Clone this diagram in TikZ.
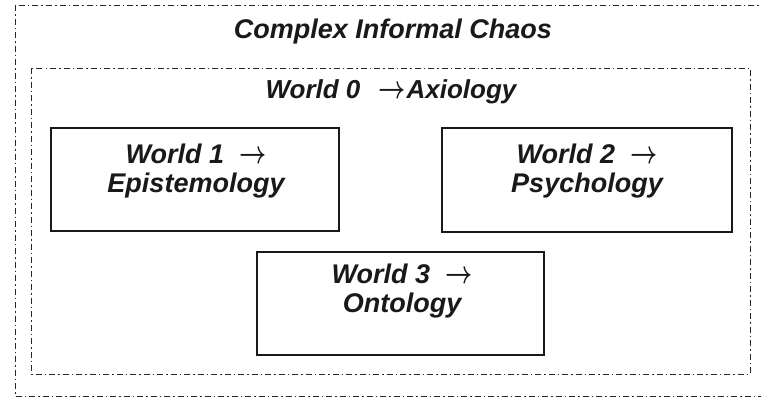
\documentclass[tikz,border=0pt]{standalone}
\usepackage{fontspec}
\setmainfont{Liberation Sans}
\newcommand{\worldarrow}{\scalebox{0.95}[1.3]{\boldmath$\rightarrow$}}
\begin{document}
\begin{tikzpicture}[x=1pt, y=-1pt,
  frame/.style={draw=black!85, line width=0.9pt,
    dash pattern=on 6pt off 3pt on 1.5pt off 3pt},
  worldbox/.style={draw=black!90, line width=1.3pt, rectangle},
  worldtext/.style={font=\fontsize{27}{29}\selectfont\bfseries\itshape,
    align=center, inner sep=0pt, text=black!90},
  heading/.style={font=\fontsize{27}{29}\selectfont\bfseries\itshape,
    inner sep=0pt, anchor=base, text=black!90}]
  \useasboundingbox (0,0) rectangle (761,399);
  \fill[white] (0,0) rectangle (761,399);
  \clip (0,0) rectangle (761,399);

  % outer frame runs off the right edge
  \draw[frame] (15,5) rectangle (790,396);
  \node[heading] (chaos) at (393,38) {Complex Informal Chaos};

  % inner frame
  \draw[frame] (31,68) rectangle (750,374);
  \node[heading, font=\fontsize{26}{29}\selectfont\bfseries\itshape]
    (axiology) at (391,98) {World 0\hspace{18pt}\worldarrow\hspace{1pt}Axiology};

  % the three worlds
  \draw[worldbox] (51,128) rectangle (339,231);
  \node[worldtext] (w1) at (196,171) {World 1\ \ \worldarrow\\Epistemology};

  \draw[worldbox] (442,128) rectangle (732,232);
  \node[worldtext] (w2) at (587,171) {World 2\ \ \worldarrow\\Psychology};

  \draw[worldbox] (257,252) rectangle (544,355);
  \node[worldtext] (w3) at (402,291) {World 3\ \ \worldarrow\\Ontology};
\end{tikzpicture}
\end{document}
